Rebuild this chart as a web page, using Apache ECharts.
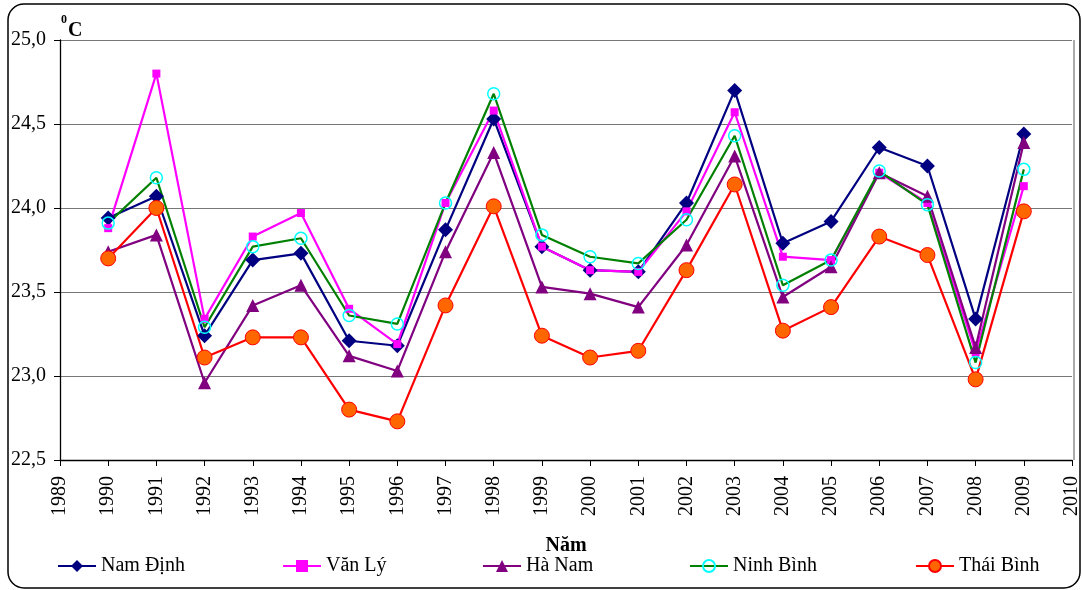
<!DOCTYPE html>
<html><head><meta charset="utf-8">
<script src="https://cdn.jsdelivr.net/npm/echarts@6/dist/echarts.min.js"></script>
<style>html,body{margin:0;padding:0;background:#fff}#c{width:1082px;height:590px}</style>
</head><body><div id="c"></div>
<script>
const years = [1990,1991,1992,1993,1994,1995,1996,1997,1998,1999,2000,2001,2002,2003,2004,2005,2006,2007,2008,2009];
const namDinh  = [23.94,24.07,23.24,23.69,23.73,23.21,23.18,23.87,24.53,23.77,23.63,23.62,24.03,24.70,23.79,23.92,24.36,24.25,23.34,24.44];
const vanLy    = [23.88,24.80,23.34,23.83,23.97,23.40,23.19,24.03,24.58,23.77,23.63,23.62,23.98,24.57,23.71,23.69,24.21,24.03,23.14,24.13];
const haNam    = [23.74,23.84,22.96,23.42,23.54,23.12,23.03,23.74,24.33,23.53,23.49,23.41,23.78,24.31,23.47,23.65,24.21,24.07,23.17,24.39];
const ninhBinh = [23.91,24.18,23.29,23.77,23.82,23.36,23.31,24.03,24.68,23.84,23.71,23.67,23.93,24.43,23.54,23.69,24.22,24.02,23.08,24.23];
const thaiBinh = [23.70,24.00,23.11,23.23,23.23,22.80,22.73,23.42,24.01,23.24,23.11,23.15,23.63,24.14,23.27,23.41,23.83,23.72,22.98,23.98];
const seriesNames = ['Nam Định','Văn Lý','Hà Nam','Ninh Bình','Thái Bình'];
const unitLabel = 'C';
const xAxisTitle = 'Năm';

const F = '"Liberation Serif","Times New Roman",serif';
const pair = a => years.map((y,i)=>[y,a[i]]);
function mk(name, data, lineColor, symbol, size, fill, border, bw){
  return {name, type:'line', data:pair(data), symbol, symbolSize:size,
    lineStyle:{color:lineColor, width:2.2}, itemStyle:{color:fill, borderColor:border, borderWidth:bw},
    emphasis:{disabled:true}, z:2};
}
const chart = echarts.init(document.getElementById('c'));
const legendLefts = [57, 282, 482, 689, 915];
chart.setOption({
  animation:false,
  grid:{left:60, right:8, top:40, bottom:130},
  xAxis:{type:'value', min:1989, max:2010, interval:1,
    axisLine:{lineStyle:{color:'#000', width:1.3}},
    axisTick:{length:6, lineStyle:{color:'#000'}},
    axisLabel:{rotate:90, margin:16, color:'#000', fontFamily:F, fontSize:20, formatter:v=>String(v)},
    splitLine:{show:false},
    name:xAxisTitle, nameLocation:'middle', nameGap:76,
    nameTextStyle:{fontFamily:F, fontSize:20, fontWeight:'bold', color:'#000'}},
  yAxis:{type:'value', min:22.5, max:25, interval:0.5,
    axisLine:{show:true, lineStyle:{color:'#000', width:1.3}},
    axisTick:{show:true, length:6, lineStyle:{color:'#000'}},
    axisLabel:{color:'#000', fontFamily:F, fontSize:20, margin:14, formatter:v=>v.toFixed(1).replace('.',',')},
    splitLine:{lineStyle:{color:'#777', width:1}}},
  legend: seriesNames.map((n,i)=>({data:[n], left:legendLefts[i], top:556, padding:0, itemWidth:38, itemHeight:15, itemGap:5,
    textStyle:{fontFamily:F, fontSize:20, color:'#000'}})),
  graphic:[
    {type:'rect', shape:{x:8, y:4, width:1072, height:584, r:16}, style:{fill:'none', stroke:'#000', lineWidth:1.5}, silent:true},
    {type:'line', shape:{x1:1074, y1:40, x2:1074, y2:460}, style:{stroke:'#aaa', lineWidth:2}, silent:true},
    {type:'text', left:61, top:14, style:{text:'0', font:'bold 12px '+F, fill:'#000'}},
    {type:'text', left:68, top:21, style:{text:unitLabel, font:'bold 20px '+F, fill:'#000'}}
  ],
  series:[
    mk(seriesNames[0], namDinh, '#000080','diamond',15,'#000080','#000080',0),
    mk(seriesNames[1], vanLy, '#FF00FF','rect',8,'#FF00FF','#FF00FF',0),
    mk(seriesNames[2], haNam, '#800080','triangle',13,'#800080','#800080',0),
    mk(seriesNames[3], ninhBinh, '#008000','circle',12,'rgba(0,0,0,0)','#00FFFF',1.5),
    mk(seriesNames[4], thaiBinh, '#FF0000','circle',15,'#FF6600','#FF0000',1)
  ]
});
</script></body></html>
